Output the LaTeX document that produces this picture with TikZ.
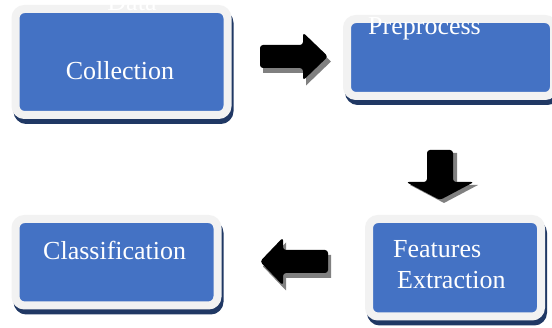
\documentclass[tikz,border=0pt]{standalone}
\usepackage{fontspec}
\setmainfont{Liberation Serif}
\definecolor{boxblue}{HTML}{4472C4}
\definecolor{framegray}{HTML}{F2F2F2}
\definecolor{shadownavy}{HTML}{203864}
\definecolor{arrowgray}{HTML}{808080}
\tikzset{
  box/.style={rectangle, rounded corners=9pt, fill=boxblue, draw=framegray,
    line width=8pt, inner sep=0pt,
    preaction={fill=shadownavy, draw=shadownavy, line width=8pt,
      transform canvas={xshift=2pt,yshift=-5pt}}},
  lbl/.style={text=white, inner sep=0pt, font=\fontsize{26}{30}\selectfont},
  arr/.style={fill=black, rounded corners=3pt},
  arrshadow/.style={fill=arrowgray},
}
\begin{document}
\begin{tikzpicture}[x=1pt, y=-1pt]
\useasboundingbox (0,0) rectangle (552,328);
\clip (0,0) rectangle (552,328);
\fill[white] (0,0) rectangle (552,328);

% boxes
\node[box, minimum width=212pt, minimum height=106pt] (collect) at (121.5,62) {};
\node[box, minimum width=207pt, minimum height=77pt] (prep) at (450.5,57.5) {};
\node[box, minimum width=172pt, minimum height=97.5pt] (feat) at (455,267.75) {};
\node[box, minimum width=202pt, minimum height=86.5pt] (class) at (116.5,262.25) {};

% texts
\node[lbl, anchor=base] (tdata) at (132,11) {Data};
\node[lbl, anchor=base] (tcoll) at (120,80) {Collection};
\node[lbl, anchor=base west] (tprep) at (368,35) {Preprocess};
\node[lbl, anchor=base west] (tfeat) at (393,258) {Features};
\node[lbl, anchor=base west] (textr) at (397,289) {Extraction};
\node[lbl, anchor=base west] (tclass) at (43,260) {Classification};

% right arrow
\fill[arrshadow, shift={(3,5)}] (260,45) -- (303,45) -- (303,32.5) -- (328,56.5) -- (303,80.5) -- (303,68) -- (260,68) -- cycle;
\fill[arr] (260,45) -- (303,45) -- (303,32.5) -- (328,56.5) -- (303,80.5) -- (303,68) -- (260,68) -- cycle;

% down arrow
\fill[arrshadow, shift={(4,3)}] (427,150) -- (453,150) -- (453,182) -- (474,182) -- (440,200) -- (406,182) -- (427,182) -- cycle;
\fill[arr] (427,150) -- (453,150) -- (453,182) -- (474,182) -- (440,200) -- (406,182) -- (427,182) -- cycle;

% left arrow
\fill[arrshadow, shift={(3,5)}] (328,250) -- (283,250) -- (283,237.5) -- (260,261.5) -- (283,285.5) -- (283,273) -- (328,273) -- cycle;
\fill[arr] (328,250) -- (283,250) -- (283,237.5) -- (260,261.5) -- (283,285.5) -- (283,273) -- (328,273) -- cycle;
\end{tikzpicture}
\end{document}
